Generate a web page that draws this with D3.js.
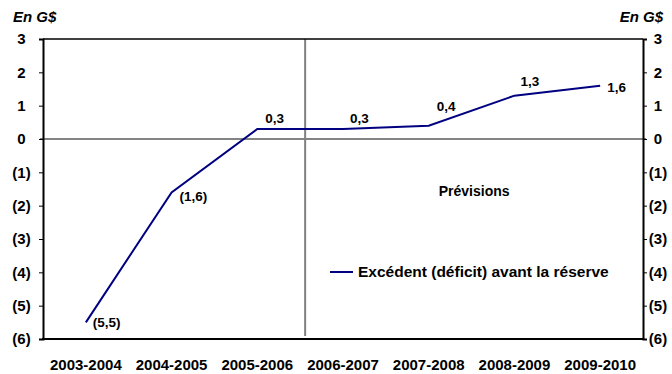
<!DOCTYPE html>
<html>
<head>
<meta charset="utf-8">
<script src="https://cdn.jsdelivr.net/npm/d3@7"></script>
<style>
    body { margin: 0; background: #ffffff; }
    svg { display: block; font-family: 'Liberation Sans', Arial, sans-serif; font-weight: bold; }
</style>
</head>
<body>
<div id="chart"></div>
<script>
    const years = ['2003-2004', '2004-2005', '2005-2006', '2006-2007', '2007-2008', '2008-2009', '2009-2010'];
    const surplus = [-5.5, -1.6, 0.3, 0.3, 0.4, 1.3, 1.6];
    const y_ticks = [3, 2, 1, 0, -1, -2, -3, -4, -5, -6];
    const unit_label = 'En G$';
    const series_name = 'Excédent (déficit) avant la réserve';
    const forecast_label = 'Prévisions';
    const forecast_start = '2006-2007';

    // label offsets from each point, in pixels
    const label_offsets = [[7, 5], [8, 9], [8, -6], [7, -6], [8, -15], [6, -10], [7, 6]];

    let fmt = function(v) {
        let s = Math.abs(v) % 1 === 0 ? String(Math.abs(v)) : Math.abs(v).toFixed(1).replace('.', ',');
        return v < 0 ? '(' + s + ')' : s;
    };

    let width = 672, height = 374;
    let margins = {top: 39, right: 29, bottom: 35, left: 43};
    let plot_w = width - margins.left - margins.right,
        plot_h = height - margins.top - margins.bottom;

    let svg = d3.select('#chart').append('svg')
        .attr('width', width)
        .attr('height', height);

    let x = d3.scaleBand().domain(years).range([0, plot_w]);
    let y = d3.scaleLinear().domain([-6, 3]).range([plot_h, 0]);

    let g = svg.append('g')
        .attr('transform', 'translate(' + margins.left + ',' + margins.top + ')');

    // zero line
    g.append('line')
        .attr('x1', -3).attr('x2', plot_w + 3)
        .attr('y1', y(0)).attr('y2', y(0))
        .attr('stroke', '#5a5a5a')
        .attr('stroke-width', 1.5);

    // forecast separator
    let sep_x = x(forecast_start) + 5;
    g.append('line')
        .attr('x1', sep_x).attr('x2', sep_x)
        .attr('y1', 0).attr('y2', plot_h - 3)
        .attr('stroke', '#808080')
        .attr('stroke-width', 2);

    // frame
    g.append('line')
        .attr('x1', 0).attr('x2', plot_w)
        .attr('y1', 0).attr('y2', 0)
        .attr('stroke', '#000000')
        .attr('stroke-width', 1.5);

    let left_axis = g.append('g')
        .call(d3.axisLeft(y).tickValues(y_ticks).tickSize(4).tickFormat(''));
    let right_axis = g.append('g')
        .attr('transform', 'translate(' + plot_w + ',0)')
        .call(d3.axisRight(y).tickValues(y_ticks).tickSize(4).tickFormat(''));
    [left_axis, right_axis].forEach(function(a) {
        a.select('.domain').attr('stroke', '#000000').attr('stroke-width', 2);
        a.selectAll('.tick line').attr('stroke', '#000000').attr('stroke-width', 1);
    });

    g.append('line')
        .attr('x1', -1).attr('x2', plot_w + 1)
        .attr('y1', plot_h).attr('y2', plot_h)
        .attr('stroke', '#000000')
        .attr('stroke-width', 2);

    // tick labels
    g.append('g').selectAll('text')
        .data(y_ticks)
        .enter().append('text')
        .attr('x', -21.5)
        .attr('y', (d) => y(d))
        .attr('dy', '0.36em')
        .attr('text-anchor', 'middle')
        .attr('font-size', 15)
        .text(fmt);

    g.append('g').selectAll('text')
        .data(y_ticks)
        .enter().append('text')
        .attr('x', plot_w + 15)
        .attr('y', (d) => y(d))
        .attr('dy', '0.36em')
        .attr('text-anchor', 'middle')
        .attr('font-size', 15)
        .text(fmt);

    g.append('g').selectAll('text')
        .data(years)
        .enter().append('text')
        .attr('x', (d) => x(d) + x.bandwidth() / 2)
        .attr('y', plot_h + 31)
        .attr('text-anchor', 'middle')
        .attr('font-size', 15)
        .text((d) => d);

    // unit labels
    svg.append('text')
        .attr('x', 13).attr('y', 22)
        .attr('font-size', 15)
        .attr('font-style', 'italic')
        .text(unit_label);
    svg.append('text')
        .attr('x', 663).attr('y', 22)
        .attr('text-anchor', 'end')
        .attr('font-size', 15)
        .attr('font-style', 'italic')
        .text(unit_label);

    // series
    let cx = (i) => x(years[i]) + x.bandwidth() / 2;
    let line = d3.line()
        .x((d, i) => cx(i))
        .y((d) => y(d));

    g.append('path').datum(surplus)
        .attr('fill', 'none')
        .attr('stroke', '#000080')
        .attr('stroke-width', 2)
        .attr('d', line);

    g.append('g').selectAll('text')
        .data(surplus)
        .enter().append('text')
        .attr('x', (d, i) => cx(i) + label_offsets[i][0])
        .attr('y', (d, i) => y(d) + label_offsets[i][1])
        .attr('font-size', 13.5)
        .text(fmt);

    // annotation
    g.append('text')
        .attr('x', x('2007-2008') + x.bandwidth() / 2 + 10)
        .attr('y', y(-1.7))
        .attr('font-size', 14)
        .text(forecast_label);

    // legend
    let legend = g.append('g')
        .attr('transform', 'translate(' + (330 - margins.left) + ',' + (272 - margins.top) + ')');
    legend.append('line')
        .attr('x1', 0).attr('x2', 23)
        .attr('stroke', '#000080')
        .attr('stroke-width', 2);
    legend.append('text')
        .attr('x', 28)
        .attr('y', 5)
        .attr('font-size', 15.5)
        .text(series_name);
</script>
</body>
</html>
